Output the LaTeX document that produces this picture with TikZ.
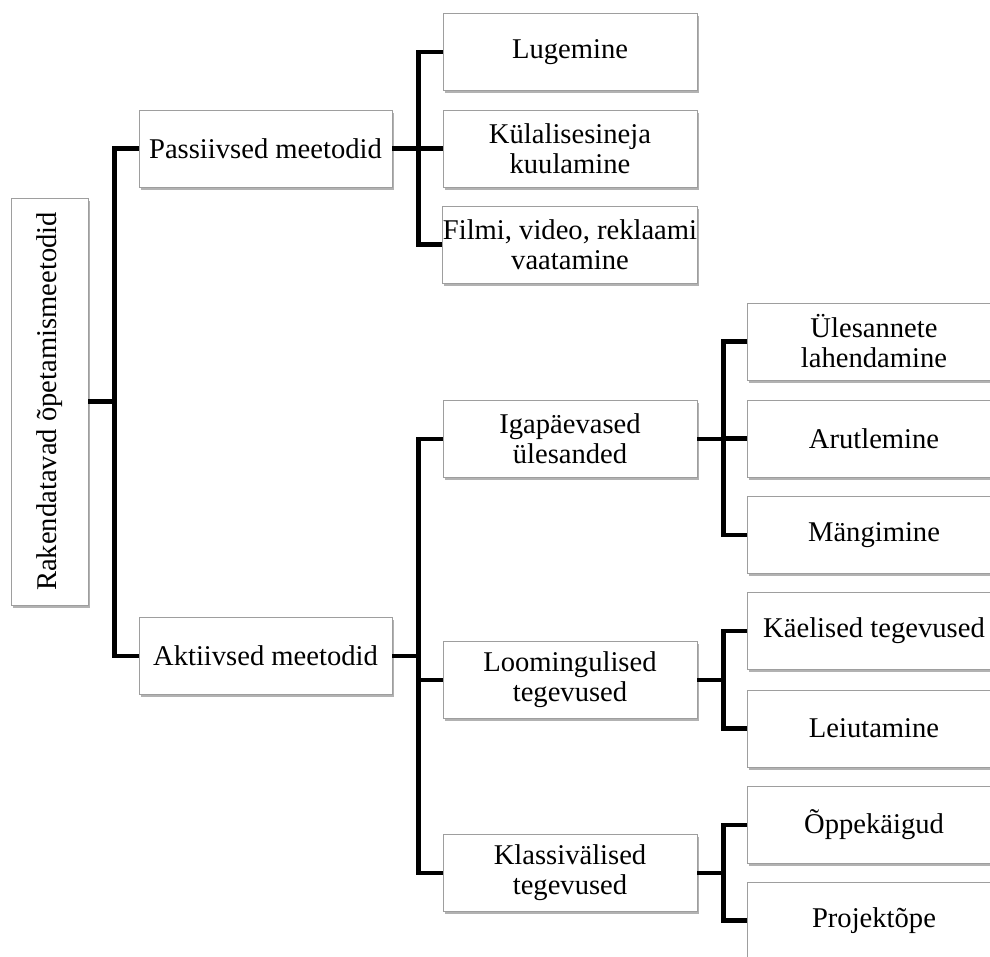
\documentclass[tikz,border=0pt]{standalone}
\usepackage{fontspec}
\setmainfont{Liberation Serif}
\usetikzlibrary{shadows}
\begin{document}
\begin{tikzpicture}[x=1pt,y=-1pt,
  box/.style={draw=black!38, line width=0.9pt, fill=white, inner sep=0pt, align=center,
    minimum height=77pt, minimum width=254pt, font=\fontsize{28.6}{30}\selectfont,
    drop shadow={shadow xshift=1.5pt, shadow yshift=-2.5pt, opacity=0.3, fill=black}},
  conn/.style={line width=4.6pt, draw=black}]
\useasboundingbox (0,0) rectangle (990,956);
\clip (0,0) rectangle (990,956);

% root
\node[box, minimum width=77pt, minimum height=407pt] (root) at (49.5,401.5)
  {\rotatebox{90}{Rakendatavad õpetamismeetodid}};

% level 1
\node[box, minimum width=253pt] (pas) at (265.5,148.5) {Passiivsed meetodid};
\node[box, minimum width=253pt] (akt) at (265.5,656) {Aktiivsed meetodid};

% level 2
\node[box] (lug) at (570,52) {Lugemine};
\node[box] (kul) at (570,148.5) {Külalisesineja\\kuulamine};
\node[box] (fil) at (570,244.5) {Filmi, video, reklaami\\vaatamine};
\node[box] (iga) at (570,439) {Igapäevased\\ülesanded};
\node[box] (loo) at (570,680) {Loomingulised\\tegevused};
\node[box] (kla) at (570,873) {Klassivälised\\tegevused};

% level 3
\node[box] (yle) at (874,341.5) {Ülesannete\\lahendamine};
\node[box] (aru) at (874,438.5) {Arutlemine};
\node[box] (man) at (874,535) {Mängimine};
\node[box] (kae) at (874,631) {Käelised tegevused};
\node[box] (lei) at (874,728.5) {Leiutamine};
\node[box] (opp) at (874,825) {Õppekäigud};
\node[box] (pro) at (874,920.5) {Projektõpe};

% connectors
\draw[conn] (root.east) -- ++(26,0) coordinate (r1);
\draw[conn] (r1) |- (pas.west);
\draw[conn] (r1) |- (akt.west);

\draw[conn] (pas.east) -- ++(26,0) coordinate (p1);
\draw[conn] (p1) |- (lug.west);
\draw[conn] (p1) |- (kul.west);
\draw[conn] (p1) |- (fil.west);

\draw[conn] (akt.east) -- ++(26,0) coordinate (a1);
\draw[conn] (a1) |- (iga.west);
\draw[conn] (a1) |- (loo.west);
\draw[conn] (a1) |- (kla.west);

\draw[conn] (iga.east) -- ++(26,0) coordinate (i1);
\draw[conn] (i1) |- (yle.west);
\draw[conn] (i1) |- (aru.west);
\draw[conn] (i1) |- (man.west);

\draw[conn] (loo.east) -- ++(26,0) coordinate (l1);
\draw[conn] (l1) |- (kae.west);
\draw[conn] (l1) |- (lei.west);

\draw[conn] (kla.east) -- ++(26,0) coordinate (k1);
\draw[conn] (k1) |- (opp.west);
\draw[conn] (k1) |- (pro.west);
\end{tikzpicture}
\end{document}
